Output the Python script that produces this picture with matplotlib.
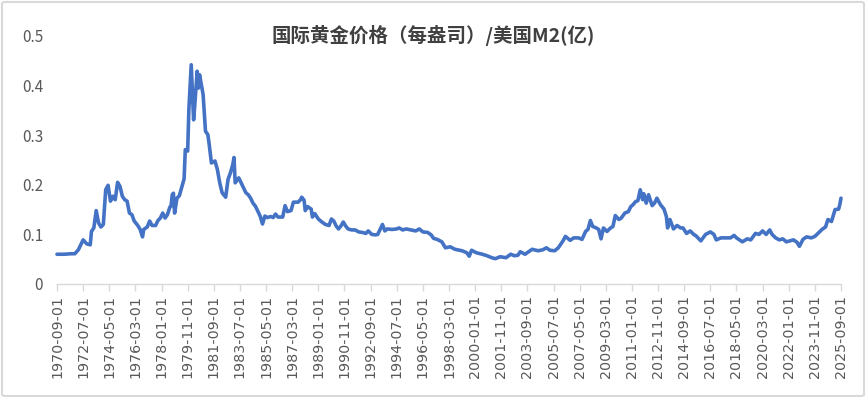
import matplotlib
matplotlib.use("Agg")
import matplotlib.pyplot as plt
from matplotlib.patches import FancyBboxPatch

plt.rcParams['font.family'] = ['Noto Sans CJK SC', 'DejaVu Sans']

title = "国际黄金价格（每盎司）/美国M2(亿)"

obs_dates = [
    "1970-09", "1971-03", "1971-09", "1971-12", "1972-03", "1972-05", "1972-07", "1972-10",
    "1973-01", "1973-02", "1973-04", "1973-06", "1973-08", "1973-10", "1973-12", "1974-02",
    "1974-04", "1974-06", "1974-08", "1974-10", "1974-12", "1975-02", "1975-04", "1975-06",
    "1975-08", "1975-10", "1975-12", "1976-02", "1976-05", "1976-07", "1976-09", "1976-10",
    "1977-01", "1977-03", "1977-05", "1977-08", "1977-10", "1977-12", "1978-02", "1978-04",
    "1978-06", "1978-08", "1978-09", "1978-10", "1978-11", "1978-12", "1979-02", "1979-04",
    "1979-06", "1979-08", "1979-09", "1979-11", "1979-12", "1980-02", "1980-04", "1980-05",
    "1980-07", "1980-08", "1980-09", "1980-11", "1980-12", "1981-02", "1981-04", "1981-05",
    "1981-07", "1981-10", "1981-12", "1982-02", "1982-04", "1982-07", "1982-09", "1982-11",
    "1983-01", "1983-02", "1983-03", "1983-06", "1983-08", "1983-10", "1983-12", "1984-02",
    "1984-04", "1984-06", "1984-08", "1984-10", "1984-12", "1985-02", "1985-04", "1985-06",
    "1985-09", "1985-11", "1986-01", "1986-03", "1986-07", "1986-09", "1986-11", "1987-02",
    "1987-04", "1987-08", "1987-10", "1987-11", "1988-01", "1988-02", "1988-04", "1988-07",
    "1988-08", "1988-10", "1989-01", "1989-04", "1989-07", "1989-10", "1989-12", "1990-02",
    "1990-04", "1990-06", "1990-08", "1990-10", "1990-12", "1991-02", "1991-05", "1991-08",
    "1991-11", "1992-02", "1992-05", "1992-07", "1992-10", "1993-01", "1993-03", "1993-05",
    "1993-07", "1993-09", "1993-11", "1994-03", "1994-07", "1994-09", "1994-12", "1995-03",
    "1995-07", "1995-11", "1996-02", "1996-05", "1996-09", "1996-12", "1997-02", "1997-05",
    "1997-09", "1997-12", "1998-04", "1998-08", "1999-02", "1999-06", "1999-08", "1999-10",
    "2000-02", "2000-07", "2000-11", "2001-03", "2001-06", "2001-10", "2002-03", "2002-07",
    "2002-10", "2003-01", "2003-03", "2003-07", "2003-10", "2004-01", "2004-06", "2004-10",
    "2005-01", "2005-04", "2005-08", "2005-11", "2006-03", "2006-05", "2006-09", "2006-12",
    "2007-04", "2007-07", "2007-10", "2007-12", "2008-02", "2008-04", "2008-07", "2008-09",
    "2008-11", "2009-01", "2009-04", "2009-07", "2009-09", "2009-11", "2010-02", "2010-04",
    "2010-07", "2010-10", "2010-12", "2011-02", "2011-04", "2011-06", "2011-08", "2011-10",
    "2011-11", "2012-01", "2012-03", "2012-06", "2012-08", "2012-10", "2013-01", "2013-04",
    "2013-06", "2013-07", "2013-09", "2013-12", "2014-03", "2014-06", "2014-08", "2014-11",
    "2015-02", "2015-05", "2015-07", "2015-11", "2016-03", "2016-07", "2016-10", "2016-12",
    "2017-04", "2017-08", "2017-12", "2018-03", "2018-05", "2018-10", "2019-02", "2019-05",
    "2019-09", "2019-12", "2020-03", "2020-06", "2020-09", "2020-11", "2021-02", "2021-05",
    "2021-08", "2021-11", "2022-02", "2022-05", "2022-08", "2022-10", "2023-01", "2023-04",
    "2023-08", "2023-11", "2024-02", "2024-05", "2024-08", "2024-10", "2025-01", "2025-04",
    "2025-07", "2025-08", "2025-09",
]

ratio = [
    0.060, 0.060, 0.061, 0.061, 0.069, 0.079, 0.089, 0.081,
    0.079, 0.106, 0.113, 0.148, 0.123, 0.115, 0.120, 0.190,
    0.199, 0.167, 0.177, 0.170, 0.205, 0.197, 0.177, 0.170,
    0.167, 0.143, 0.140, 0.127, 0.118, 0.110, 0.095, 0.110,
    0.115, 0.127, 0.118, 0.118, 0.128, 0.133, 0.143, 0.133,
    0.140, 0.155, 0.157, 0.180, 0.183, 0.143, 0.173, 0.178,
    0.195, 0.212, 0.271, 0.268, 0.351, 0.442, 0.331, 0.361,
    0.429, 0.395, 0.422, 0.395, 0.382, 0.308, 0.301, 0.284,
    0.244, 0.248, 0.231, 0.204, 0.184, 0.175, 0.211, 0.224,
    0.241, 0.255, 0.204, 0.214, 0.204, 0.194, 0.184, 0.180,
    0.173, 0.163, 0.157, 0.147, 0.137, 0.121, 0.137, 0.134,
    0.136, 0.134, 0.141, 0.135, 0.135, 0.158, 0.146, 0.148,
    0.165, 0.165, 0.170, 0.175, 0.169, 0.148, 0.156, 0.151,
    0.135, 0.142, 0.131, 0.125, 0.120, 0.118, 0.131, 0.127,
    0.117, 0.111, 0.117, 0.125, 0.117, 0.111, 0.109, 0.109,
    0.105, 0.104, 0.102, 0.107, 0.100, 0.099, 0.100, 0.110,
    0.120, 0.107, 0.111, 0.110, 0.111, 0.113, 0.109, 0.111,
    0.109, 0.107, 0.111, 0.105, 0.104, 0.099, 0.092, 0.090,
    0.085, 0.073, 0.075, 0.070, 0.067, 0.063, 0.056, 0.068,
    0.063, 0.060, 0.057, 0.053, 0.051, 0.055, 0.053, 0.060,
    0.057, 0.058, 0.065, 0.060, 0.065, 0.070, 0.067, 0.069,
    0.073, 0.068, 0.067, 0.073, 0.087, 0.096, 0.088, 0.093,
    0.093, 0.090, 0.106, 0.110, 0.128, 0.116, 0.113, 0.110,
    0.091, 0.113, 0.106, 0.113, 0.116, 0.138, 0.130, 0.133,
    0.143, 0.146, 0.156, 0.160, 0.166, 0.168, 0.190, 0.170,
    0.182, 0.163, 0.180, 0.158, 0.163, 0.173, 0.160, 0.151,
    0.136, 0.113, 0.130, 0.111, 0.118, 0.113, 0.113, 0.102,
    0.107, 0.100, 0.097, 0.087, 0.100, 0.105, 0.100, 0.089,
    0.093, 0.093, 0.093, 0.098, 0.093, 0.085, 0.091, 0.089,
    0.102, 0.100, 0.107, 0.100, 0.109, 0.100, 0.093, 0.089,
    0.091, 0.085, 0.087, 0.089, 0.084, 0.076, 0.090, 0.095,
    0.093, 0.096, 0.103, 0.110, 0.115, 0.130, 0.126, 0.150,
    0.151, 0.160, 0.173,
]

tick_labels = [
    "1970-09-01", "1972-07-01", "1974-05-01", "1976-03-01", "1978-01-01", "1979-11-01",
    "1981-09-01", "1983-07-01", "1985-05-01", "1987-03-01", "1989-01-01", "1990-11-01",
    "1992-09-01", "1994-07-01", "1996-05-01", "1998-03-01", "2000-01-01", "2001-11-01",
    "2003-09-01", "2005-07-01", "2007-05-01", "2009-03-01", "2011-01-01", "2012-11-01",
    "2014-09-01", "2016-07-01", "2018-05-01", "2020-03-01", "2022-01-01", "2023-11-01",
    "2025-09-01",
]

y_ticks = [0, 0.1, 0.2, 0.3, 0.4, 0.5]
y_tick_labels = ["0", "0.1", "0.2", "0.3", "0.4", "0.5"]


def month_index(s):
    y, m = int(s[0:4]), int(s[5:7])
    return (y - 1970) * 12 + (m - 9)


x = [month_index(d) for d in obs_dates]
xt = [month_index(d) for d in tick_labels]

W, H = 866, 398
fig = plt.figure(figsize=(W / 100, H / 100), dpi=100)
fig.patch.set_facecolor("white")

# outer border
border = FancyBboxPatch((2 / W, 2 / H), 1 - 4 / W, 1 - 4 / H,
                        boxstyle="round,pad=0,rounding_size=0.004",
                        transform=fig.transFigure, facecolor="white",
                        edgecolor="#d9d9d9", linewidth=1.5, zorder=-10)
fig.patches.append(border)

left = 57 / W
right = 841 / W
bottom = 1 - 284 / H
top = 1 - 36 / H
ax = fig.add_axes([left, bottom, right - left, top - bottom])
ax.set_facecolor("none")

ax.plot(x, ratio, color="#4472C4", linewidth=2.6, solid_joinstyle="round",
        solid_capstyle="round", clip_on=False)

ax.set_xlim(0, 660)
ax.set_ylim(0, 0.5)

for s in ["top", "right", "left"]:
    ax.spines[s].set_visible(False)
ax.spines["bottom"].set_color("#d9d9d9")
ax.spines["bottom"].set_linewidth(1.0)

ax.set_yticks(y_ticks)
ax.set_yticklabels(y_tick_labels, fontsize=11, color="#595959")
ax.tick_params(axis="y", length=0, pad=10)

ax.set_xticks(xt)
ax.set_xticklabels(tick_labels, rotation=90, fontsize=10.3, color="#595959",
                   family=["DejaVu Sans"])
ax.tick_params(axis="x", direction="out", length=5, width=1.0, color="#d9d9d9", pad=3)

fig.text(0.5, 1 - 35 / H, title, ha="center", va="center", fontsize=14,
         fontweight="bold", color="#404040")

fig.savefig("out.png", dpi=100, facecolor="white")
